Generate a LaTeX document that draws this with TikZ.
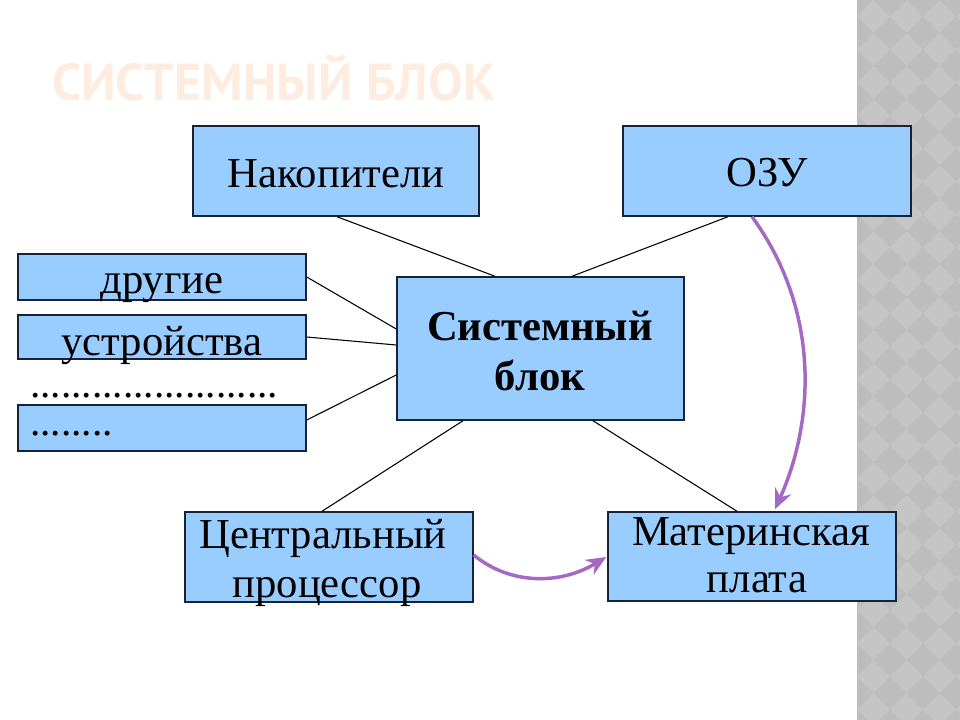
\documentclass[tikz,border=0pt]{standalone}
\usepackage{fontspec}
\setmainfont{Liberation Serif}
\newfontfamily\titlefont{PT Sans}
\usetikzlibrary{arrows.meta,calc}
\newlength\pxu \setlength\pxu{0.75pt}
\definecolor{boxblue}{RGB}{153,204,255}
\definecolor{boxline}{RGB}{25,35,55}
\definecolor{arrowpurple}{RGB}{165,105,195}
\definecolor{titlecol}{RGB}{253,237,225}
\definecolor{stripA}{RGB}{197,197,197}
\definecolor{stripB}{RGB}{189,189,189}
\tikzset{
  box/.style={draw=boxline, fill=boxblue, line width=1.1pt, inner sep=0pt},
  lbl/.style={anchor=base, inner sep=0pt, font=\fontsize{32}{36}\selectfont},
  lblb/.style={anchor=base, inner sep=0pt, font=\fontsize{32}{36}\selectfont\bfseries},
  dotlbl/.style={anchor=base west, inner sep=0pt, text height=4pt, text depth=0pt, font=\fontsize{31}{34}\selectfont},
  link/.style={draw=black, line width=0.8pt},
  flow/.style={draw=arrowpurple, line width=2.6pt, -{Stealth[length=15pt,width=13pt,inset=5pt]}}
}
\begin{document}
\begin{tikzpicture}[x=0.75pt,y=-0.75pt]
\useasboundingbox (0,0) rectangle (960,720);
% right decorative strip
\fill[stripA] (857,0) rectangle (960,720);
\begin{scope}
  \clip (857,0) rectangle (960,720);
  \foreach \a in {0,...,4}{
    \foreach \b in {0,...,22}{
      \fill[stripB] ({857+33*\a},{33*\b-16.5}) -- ({857+33*\a+16.5},{33*\b}) -- ({857+33*\a},{33*\b+16.5}) -- ({857+33*\a-16.5},{33*\b}) -- cycle;
    }
  }
\end{scope}
% title
\node[anchor=base west, inner sep=0pt, text=titlecol, font=\titlefont\bfseries\fontsize{39}{44}\selectfont] (title) at (52,101) {СИСТЕМНЫЙ БЛОК};
% boxes
\node[box, minimum width=286\pxu, minimum height=90\pxu] (nak) at (336,171) {};
\node[box, minimum width=288\pxu, minimum height=90\pxu] (ozu) at (767,171) {};
\node[box, minimum width=287\pxu, minimum height=143\pxu] (sys) at (540.5,348.5) {};
\node[box, minimum width=288\pxu, minimum height=46\pxu] (dr) at (162,277) {};
\node[box, minimum width=288\pxu, minimum height=44\pxu] (us) at (162,337) {};
\node[box, minimum width=288\pxu, minimum height=46\pxu] (dbox) at (162,428) {};
\node[box, minimum width=288\pxu, minimum height=90\pxu] (cpu) at (329,557) {};
\node[box, minimum width=288\pxu, minimum height=89\pxu] (mp) at (752,556.5) {};
% labels
\node[lbl] (tnak) at (336,188) {Накопители};
\node[lbl] (tozu) at (767,187) {ОЗУ};
\node[lblb] (tsys1) at (540,340) {Системный};
\node[lblb] (tsys2) at (540,390) {блок};
\node[lbl] (tdr) at (162,293) {другие};
\node[lbl] (tus) at (162,355) {устройства};
\node[dotlbl] (tdots) at (30,397) {........................};
\node[dotlbl] (tdbox) at (30,435) {........};
\node[lbl] (tcpu1) at (323,548) {Центральный};
\node[lbl] (tcpu2) at (327,597) {процессор};
\node[lbl] (tmp1) at (751,545) {Материнская};
\node[lbl] (tmp2) at (757,592) {плата};
% connectors
\draw[link] ($(nak.south)+(1,0)$) -- ($(sys.north)+(-45.5,0)$);
\draw[link] ($(ozu.south)+(-39,0)$) -- ($(sys.north)+(31.5,0)$);
\draw[link] (dr.east) -- ($(sys.west)+(0,-19.5)$);
\draw[link] (us.east) -- ($(sys.west)+(0,-3.5)$);
\draw[link] ($(dbox.east)+(0,-8)$) -- ($(sys.west)+(0,26.5)$);
\draw[link] ($(sys.south)+(-77.5,0)$) -- ($(cpu.north)+(-7,0)$);
\draw[link] ($(sys.south)+(52.5,0)$) -- ($(mp.north)+(-15,0)$);
% purple arrows
\draw[flow] ($(ozu.south)+(-15,0)$) .. controls (820,310) and (815,420) .. ($(mp.north)+(23,-2)$);
\draw[flow] ($(cpu.east)+(0,-2)$) .. controls (510,585) and (560,585) .. ($(mp.west)+(-1,0.5)$);
\end{tikzpicture}
\end{document}
